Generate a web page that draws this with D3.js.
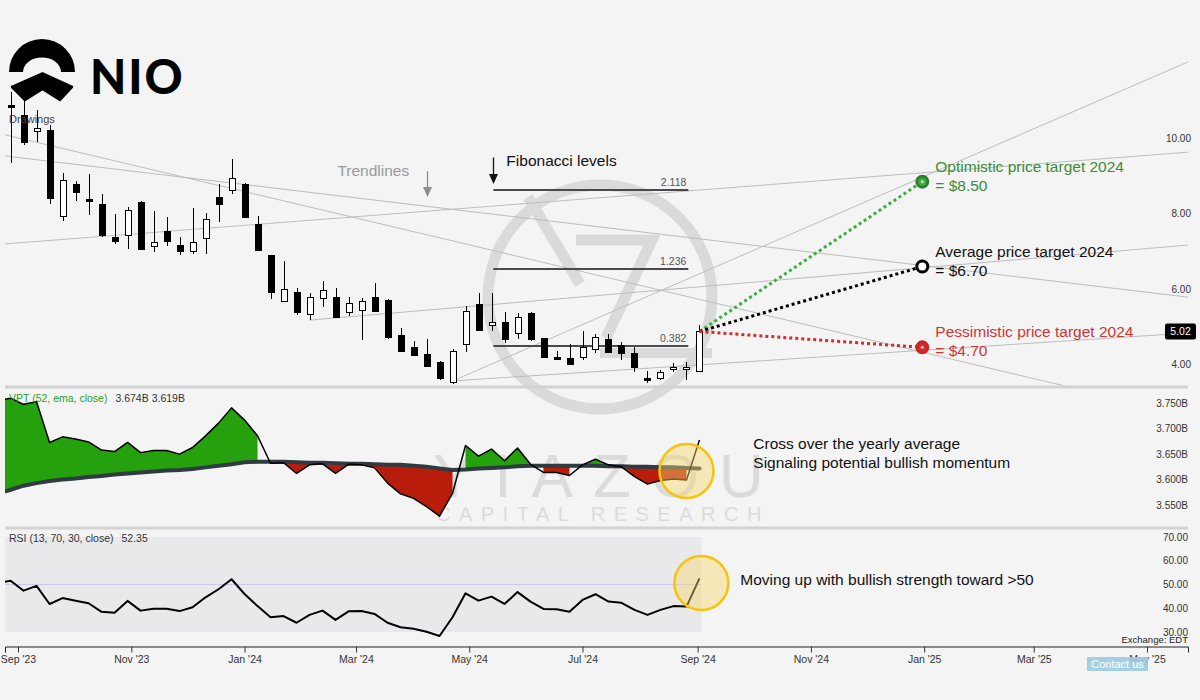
<!DOCTYPE html>
<html>
<head>
<meta charset="utf-8">
<script src="https://cdn.jsdelivr.net/npm/d3@7"></script>
<style>
  html, body { margin: 0; padding: 0; background: #f4f4f4; }
  svg { display: block; font-family: "Liberation Sans", Arial, sans-serif; }
</style>
</head>
<body>
<script>
// weekly candles, first week starting 2023-08-28
const candleStart = '2023-08-28'
const candleEnd = '2024-09-03'
const open = [11.03, 10.75, 10.33, 10.35, 8.08, 8.92, 8.53, 8.39, 7.51, 7.57, 8.46, 7.29, 7.68, 7.32, 7.15, 7.50, 8.59, 8.78, 8.94, 7.86,
  7.04, 5.82, 6.07, 5.48, 5.91, 5.94, 5.53, 5.58, 5.94, 5.85, 4.92, 4.60, 4.42, 4.22, 3.69, 4.68, 5.75, 5.19, 5.27, 4.98,
  5.51, 4.84, 4.34, 4.31, 4.35, 4.55, 4.81, 4.66, 4.44, 3.79, 3.80, 4.08, 4.07, 3.97]
const high = [11.36, 11.14, 10.88, 10.48, 9.22, 9.01, 9.19, 8.66, 8.14, 8.31, 8.48, 8.21, 8.05, 7.52, 8.30, 8.16, 8.92, 9.60, 8.96, 8.07,
  7.05, 6.89, 6.17, 6.05, 6.35, 6.17, 5.94, 5.91, 6.31, 5.87, 5.12, 4.76, 4.82, 4.23, 4.55, 5.69, 6.05, 6.05, 5.54, 5.51,
  5.54, 4.85, 4.50, 4.70, 5.04, 4.95, 4.95, 4.73, 4.61, 3.97, 4.00, 4.19, 4.20, 5.19]
const low = [9.48, 9.95, 10.03, 8.40, 7.94, 8.48, 8.11, 7.51, 7.33, 7.20, 7.17, 7.13, 7.28, 7.04, 7.06, 7.06, 7.92, 8.65, 8.02, 7.15,
  5.87, 5.80, 5.45, 5.32, 5.67, 5.40, 5.43, 4.79, 5.54, 4.81, 4.48, 4.39, 4.10, 3.73, 3.62, 4.48, 5.06, 5.04, 4.72, 4.81,
  4.76, 4.33, 4.26, 4.15, 4.26, 4.44, 4.46, 4.26, 3.95, 3.65, 3.73, 3.95, 3.73, 3.97]
const close = [10.98, 10.03, 10.40, 8.55, 9.03, 8.72, 8.48, 7.57, 7.43, 8.25, 7.21, 7.39, 7.42, 7.15, 7.39, 7.99, 8.41, 9.08, 8.05, 7.17,
  6.07, 6.14, 5.54, 5.94, 6.13, 5.41, 5.77, 5.82, 5.57, 4.88, 4.50, 4.41, 4.11, 3.78, 4.51, 5.56, 5.07, 5.27, 4.82, 5.41,
  4.81, 4.35, 4.33, 4.16, 4.61, 4.88, 4.48, 4.44, 4.07, 3.78, 3.95, 4.09, 4.08, 5.02]
const lastPrice = 5.02

// indicators, one week earlier start
const indicatorStart = '2023-08-21'
const vpt = [3.755, 3.760, 3.748, 3.753, 3.673, 3.684, 3.680, 3.674, 3.658, 3.655, 3.673, 3.653, 3.657, 3.657, 3.650, 3.663, 3.686, 3.711, 3.741, 3.717,
  3.686, 3.632, 3.633, 3.612, 3.629, 3.631, 3.612, 3.630, 3.629, 3.623, 3.593, 3.572, 3.563, 3.547, 3.528, 3.573, 3.667, 3.646, 3.660, 3.637,
  3.662, 3.630, 3.614, 3.614, 3.608, 3.629, 3.640, 3.629, 3.625, 3.606, 3.591, 3.598, 3.601, 3.599, 3.678]
const vptEma = [3.572, 3.580, 3.588, 3.593, 3.597, 3.600, 3.602, 3.605, 3.607, 3.610, 3.612, 3.614, 3.616, 3.618, 3.619, 3.621, 3.624, 3.627, 3.630, 3.634,
  3.635, 3.635, 3.635, 3.634, 3.633, 3.633, 3.632, 3.631, 3.631, 3.630, 3.629, 3.629, 3.627, 3.625, 3.622, 3.619, 3.620, 3.622, 3.623, 3.624,
  3.626, 3.627, 3.627, 3.627, 3.627, 3.627, 3.627, 3.626, 3.626, 3.625, 3.625, 3.624, 3.624, 3.623, 3.622]
const rsi = [50.6, 51.6, 47.4, 49.4, 41.8, 44.3, 43.2, 42.1, 38.5, 38.1, 43.1, 39.0, 39.8, 39.8, 38.8, 40.4, 44.6, 48.0, 52.2, 46.0,
  40.9, 36.2, 36.7, 33.9, 37.2, 39.0, 35.1, 38.7, 38.8, 37.6, 33.9, 32.0, 31.4, 30.1, 28.3, 36.2, 46.3, 43.2, 44.9, 41.8,
  46.8, 42.8, 39.7, 39.6, 38.5, 43.5, 45.9, 42.8, 42.3, 39.3, 37.2, 39.3, 40.9, 40.7, 52.6]
const vptLegend = ['3.674B', '3.619B']
const rsiLegend = '52.35'

// drawings
const trendlines = [
  [['2023-08-25', 7.34], ['2025-05-23', 9.77]],
  [['2023-08-25', 9.67], ['2025-05-23', 5.93]],
  [['2023-08-25', 10.23], ['2025-03-20', 3.55]],
  [['2024-02-05', 5.32], ['2025-05-23', 7.31]],
  [['2024-04-22', 3.71], ['2025-05-23', 4.98]],
  [['2024-04-22', 3.71], ['2025-05-23', 12.16]]
]
const fibFrom = '2024-05-14'
const fibTo = '2024-08-27'
const fibZero = 3.73
const fibOne = 6.11
const fibLevels = [0.382, 1.236, 2.118]

const targetFrom = '2024-09-02'
const targetDate = '2024-12-31'
const targetNames = ['Optimistic price target 2024', 'Average price target 2024', 'Pessimistic price target 2024']
const targetLabels = ['= $8.50', '= $6.70', '= $4.70']
const targetPlot = [8.99, 6.74, 4.60]

const priceTicks = [4, 6, 8, 10]
const vptTicks = [3.55, 3.60, 3.65, 3.70, 3.75]
const rsiTicks = [30, 40, 50, 60, 70]
const monthTicks = ['2023-09-01', '2023-11-01', '2024-01-01', '2024-03-01', '2024-05-01', '2024-07-01', '2024-09-01',
  '2024-11-01', '2025-01-01', '2025-03-01', '2025-05-01']

const parse = d3.timeParse('%Y-%m-%d')
const W = 1200, H = 700
const plotL = 5, plotR = 1188

const weeks = d3.timeMonday.range(parse(candleStart), parse(candleEnd))
const indWeeks = d3.timeMonday.range(parse(indicatorStart), parse(candleEnd))

const x = d3.scaleTime().domain([parse('2023-09-01'), parse('2025-05-01')]).range([18, 1147])
x.domain([x.invert(plotL), x.invert(plotR)]).range([plotL, plotR])
const yPrice = d3.scaleLinear().domain([4, 10]).range([370, 143.5])
const yVpt = d3.scaleLinear().domain([3.55, 3.75]).range([505, 403.3])
const yRsi = d3.scaleLinear().domain([30, 70]).range([632, 537])

const svg = d3.select('body').append('svg').attr('width', W).attr('height', H)
svg.append('rect').attr('width', W).attr('height', H).attr('fill', '#f4f4f4')

const defs = svg.append('defs')
const clip = (id, y0, y1) => defs.append('clipPath').attr('id', id)
  .append('rect').attr('x', plotL).attr('y', y0).attr('width', plotR - plotL).attr('height', y1 - y0)
clip('clipPrice', 30, 386)
clip('clipVpt', 389, 527)
clip('clipRsi', 530, 645)

// watermark
const wm = svg.append('g').attr('fill', 'none').attr('stroke', '#d4d4d4').attr('opacity', 0.8)
wm.append('circle').attr('cx', 600).attr('cy', 297).attr('r', 112).attr('stroke-width', 11)
wm.append('path').attr('d', 'M528,197 L580,284').attr('stroke-width', 11)
wm.append('path').attr('d', 'M576,240 L652,240 L606,338').attr('stroke-width', 11).attr('stroke-linejoin', 'miter')
wm.append('path').attr('d', 'M600,353 L712,353').attr('stroke-width', 10)
svg.append('text').attr('x', 433).attr('y', 497).attr('font-size', 62).attr('letter-spacing', 20)
  .attr('fill', '#d6d6d6').attr('opacity', 0.8).text('YIAZOU')
svg.append('text').attr('x', 436).attr('y', 521).attr('font-size', 20).attr('letter-spacing', 8.5)
  .attr('fill', '#d6d6d6').attr('opacity', 0.8).text('CAPITAL RESEARCH')

// price pane
const priceG = svg.append('g').attr('clip-path', 'url(#clipPrice)')

priceG.append('g').selectAll('line').data(trendlines).join('line')
  .attr('x1', d => x(parse(d[0][0]))).attr('y1', d => yPrice(d[0][1]))
  .attr('x2', d => x(parse(d[1][0]))).attr('y2', d => yPrice(d[1][1]))
  .attr('stroke', '#bdbdbd').attr('stroke-width', 1)

const fibG = priceG.append('g')
fibG.selectAll('line').data(fibLevels).join('line')
  .attr('x1', x(parse(fibFrom))).attr('x2', x(parse(fibTo)))
  .attr('y1', d => Math.round(yPrice(fibZero + d * (fibOne - fibZero))))
  .attr('y2', d => Math.round(yPrice(fibZero + d * (fibOne - fibZero))))
  .attr('stroke', '#4a4a4a').attr('stroke-width', 2)
fibG.selectAll('text').data(fibLevels).join('text')
  .attr('x', x(parse(fibTo)) - 2)
  .attr('y', d => yPrice(fibZero + d * (fibOne - fibZero)) - 4)
  .attr('text-anchor', 'end').attr('font-size', 10.5).attr('fill', '#555')
  .text(d => d.toFixed(3))

const candles = weeks.map((d, i) => ({ date: d, o: open[i], h: high[i], l: low[i], c: close[i] }))
const cg = priceG.append('g').attr('shape-rendering', 'crispEdges')
cg.selectAll('line').data(candles).join('line')
  .attr('x1', d => Math.round(x(d.date)) + 0.5).attr('x2', d => Math.round(x(d.date)) + 0.5)
  .attr('y1', d => yPrice(d.h)).attr('y2', d => yPrice(d.l))
  .attr('stroke', '#000').attr('stroke-width', 1)
cg.selectAll('rect').data(candles).join('rect')
  .attr('x', d => Math.round(x(d.date)) - 3 + 0.5)
  .attr('width', 6)
  .attr('y', d => Math.round(yPrice(Math.max(d.o, d.c))) + 0.5)
  .attr('height', d => Math.max(1.5, Math.round(yPrice(Math.min(d.o, d.c))) - Math.round(yPrice(Math.max(d.o, d.c)))))
  .attr('fill', d => d.c >= d.o ? '#fff' : '#000')
  .attr('stroke', '#000').attr('stroke-width', 1)

// drawings labels
svg.append('text').attr('x', 9).attr('y', 123).attr('font-size', 11).attr('fill', '#444').text('Drawings')

const arrow = (g, xd, p0, p1, color) => {
  const ax = Math.round(x(parse(xd))) + 0.5
  const ya = yPrice(p0), yb = yPrice(p1)
  g.append('line').attr('x1', ax).attr('x2', ax).attr('y1', ya).attr('y2', yb - 6)
    .attr('stroke', color).attr('stroke-width', 1.3)
  g.append('path').attr('d', `M${ax - 4.5},${yb - 10} L${ax + 4.5},${yb - 10} L${ax},${yb} Z`).attr('fill', color)
}
const annG = svg.append('g')
annG.append('text').attr('x', x(parse('2024-02-20'))).attr('y', yPrice(9.27)).attr('dy', '0.35em')
  .attr('font-size', 15.5).attr('fill', '#9a9a9a').text('Trendlines')
arrow(annG, '2024-04-08', 9.27, 8.58, '#8c8c8c')
annG.append('text').attr('x', x(parse('2024-05-21'))).attr('y', yPrice(9.56)).attr('dy', '0.35em')
  .attr('font-size', 15.5).attr('fill', '#111').text('Fibonacci levels')
arrow(annG, '2024-05-14', 9.63, 8.93, '#111')

// price targets
const targetColor = ['#3cae3c', '#000000', '#d42c2c']
const targetRing = ['#2e7d32', '#000000', '#c62828']
const targetText = ['#3c8c3c', '#111111', '#d03434']
const tg = svg.append('g')
const tx0 = x(parse(targetFrom)), ty0 = yPrice(lastPrice)
const tx1 = x(parse(targetDate))
tg.selectAll('line').data(targetPlot).join('line')
  .attr('x1', tx0).attr('y1', ty0).attr('x2', tx1).attr('y2', d => yPrice(d))
  .attr('stroke', (d, i) => targetColor[i]).attr('stroke-width', 3).attr('stroke-dasharray', '3,3')
tg.selectAll('circle.ring').data(targetPlot).join('circle').attr('class', 'ring')
  .attr('cx', tx1).attr('cy', d => yPrice(d)).attr('r', 5.5)
  .attr('fill', (d, i) => i === 1 ? '#fff' : targetColor[i])
  .attr('stroke', (d, i) => targetRing[i]).attr('stroke-width', 3)
tg.selectAll('circle.dot').data(targetPlot).join('circle').attr('class', 'dot')
  .attr('cx', tx1).attr('cy', d => yPrice(d)).attr('r', 1.5)
  .attr('fill', (d, i) => i === 1 ? '#fff' : '#f4e8e8').attr('opacity', 0.8)
tg.selectAll('text.name').data(targetPlot).join('text').attr('class', 'name')
  .attr('x', tx1 + 13).attr('y', d => yPrice(d) - 10).attr('font-size', 15.5)
  .attr('fill', (d, i) => targetText[i]).text((d, i) => targetNames[i])
tg.selectAll('text.val').data(targetPlot).join('text').attr('class', 'val')
  .attr('x', tx1 + 13).attr('y', d => yPrice(d) + 9).attr('font-size', 15.5)
  .attr('fill', (d, i) => targetText[i]).text((d, i) => targetLabels[i])

// price axis
svg.append('g').selectAll('text').data(priceTicks).join('text')
  .attr('x', 1191).attr('y', d => yPrice(d) - 5.5).attr('dy', '0.35em')
  .attr('text-anchor', 'end').attr('font-size', 10).attr('fill', '#333').text(d => d.toFixed(2))
const lp = svg.append('g')
lp.append('rect').attr('x', 1165).attr('y', yPrice(lastPrice) - 8).attr('width', 31).attr('height', 16)
  .attr('rx', 2).attr('fill', '#000')
lp.append('text').attr('x', 1180.5).attr('y', yPrice(lastPrice)).attr('dy', '0.35em').attr('text-anchor', 'middle')
  .attr('font-size', 10.5).attr('fill', '#fff').text(lastPrice.toFixed(2))

// separators
svg.append('g').selectAll('rect').data([385.5, 526.5]).join('rect')
  .attr('x', plotL).attr('y', d => d).attr('width', plotR - plotL).attr('height', 3).attr('fill', '#d2d2d2')

// VPT pane
const ind = indWeeks.map((d, i) => ({ date: d, v: vpt[i], e: vptEma[i], r: rsi[i] }))
const vptG = svg.append('g').attr('clip-path', 'url(#clipVpt)')
const runs = []
let cur = null
ind.forEach(p => {
  const s = p.v >= p.e ? 1 : -1
  if (!cur || cur.s !== s) { cur = { s, pts: [] }; runs.push(cur) }
  cur.pts.push(p)
})
const vArea = d3.area().x(d => x(d.date)).y0(d => yVpt(d.e)).y1(d => yVpt(d.v))
vptG.selectAll('path.fill').data(runs.filter(r => r.pts.length > 1)).join('path').attr('class', 'fill')
  .attr('d', r => vArea(r.pts)).attr('fill', r => r.s > 0 ? '#24a10c' : '#b81c0a')
vptG.append('path').datum(ind)
  .attr('d', d3.line().x(d => x(d.date)).y(d => yVpt(d.e)))
  .attr('fill', 'none').attr('stroke', '#2f3a41').attr('stroke-width', 4).attr('stroke-linecap', 'round')
vptG.append('path').datum(ind)
  .attr('d', d3.line().x(d => x(d.date)).y(d => yVpt(d.v)))
  .attr('fill', 'none').attr('stroke', '#000').attr('stroke-width', 1.5).attr('stroke-linejoin', 'round')
const vh = svg.append('text').attr('x', 9).attr('y', 402).attr('font-size', 10.5)
vh.append('tspan').attr('fill', '#2ca02c').text('VPT (52, ema, close)')
vh.append('tspan').attr('fill', '#333').attr('dx', 8).text(vptLegend.join(' '))
svg.append('g').selectAll('text').data(vptTicks).join('text')
  .attr('x', 1188).attr('y', d => yVpt(d)).attr('dy', '0.35em')
  .attr('text-anchor', 'end').attr('font-size', 10).attr('fill', '#333').text(d => d.toFixed(3) + 'B')

// RSI pane
const rsiG = svg.append('g').attr('clip-path', 'url(#clipRsi)')
const lastX = x(indWeeks[indWeeks.length - 1]) + 2
rsiG.append('rect').attr('x', plotL).attr('y', yRsi(70)).attr('width', lastX - plotL).attr('height', yRsi(30) - yRsi(70))
  .attr('fill', '#e9e9ec')
rsiG.append('line').attr('x1', plotL).attr('x2', lastX).attr('y1', yRsi(50)).attr('y2', yRsi(50))
  .attr('stroke', '#cdc6ea').attr('stroke-width', 1)
rsiG.append('path').datum(ind)
  .attr('d', d3.line().x(d => x(d.date)).y(d => yRsi(d.r)))
  .attr('fill', 'none').attr('stroke', '#000').attr('stroke-width', 2).attr('stroke-linejoin', 'round')
const rh = svg.append('text').attr('x', 9).attr('y', 542).attr('font-size', 10.5).attr('fill', '#333')
rh.append('tspan').text('RSI (13, 70, 30, close)')
rh.append('tspan').attr('dx', 8).text(rsiLegend)
svg.append('g').selectAll('text').data(rsiTicks).join('text')
  .attr('x', 1188).attr('y', d => yRsi(d)).attr('dy', '0.35em')
  .attr('text-anchor', 'end').attr('font-size', 10).attr('fill', '#333').text(d => d.toFixed(2))

// highlight circles
const hl = svg.append('g').attr('fill', 'rgba(246, 214, 110, 0.45)').attr('stroke', '#f6c40c').attr('stroke-width', 2.5)
hl.append('circle').attr('cx', x(parse('2024-08-26'))).attr('cy', yVpt(3.617)).attr('r', 27)
hl.append('circle').attr('cx', x(parse('2024-09-03'))).attr('cy', yRsi(50.6)).attr('r', 27)

// indicator annotations
const noteG = svg.append('g').attr('font-size', 15.5).attr('fill', '#111')
noteG.append('text').attr('x', x(parse('2024-10-01'))).attr('y', yVpt(3.670)).attr('dy', '0.35em')
  .text('Cross over the yearly average')
noteG.append('text').attr('x', x(parse('2024-10-01'))).attr('y', yVpt(3.670) + 19).attr('dy', '0.35em')
  .text('Signaling potential bullish momentum')
noteG.append('text').attr('x', x(parse('2024-09-24'))).attr('y', yRsi(51.9)).attr('dy', '0.35em')
  .text('Moving up with bullish strength toward >50')

// x axis
const xAxis = d3.axisBottom(x).tickValues(monthTicks.map(parse)).tickSize(6).tickPadding(3)
  .tickFormat(d3.timeFormat("%b '%y"))
const xg = svg.append('g').attr('transform', 'translate(0,646.5)').call(xAxis)
xg.select('.domain').attr('stroke', '#222')
xg.selectAll('.tick line').attr('stroke', '#333')
xg.selectAll('.tick text').attr('fill', '#333').attr('font-size', 10.5)
  .attr('font-family', '"Liberation Sans", Arial, sans-serif')
svg.append('text').attr('x', 1188).attr('y', 643).attr('text-anchor', 'end').attr('font-size', 9.5)
  .attr('fill', '#222').text('Exchange: EDT')

const cu = svg.append('g')
cu.append('rect').attr('x', 1087).attr('y', 657).attr('width', 61).attr('height', 14).attr('fill', '#9ccbe2').attr('opacity', 0.9)
cu.append('text').attr('x', 1117.5).attr('y', 664).attr('dy', '0.35em').attr('text-anchor', 'middle')
  .attr('font-size', 11).attr('fill', '#fff').text('Contact us')

// NIO logo
const logo = svg.append('g').attr('fill', '#000')
logo.append('path').attr('d', 'M9,72 A33,33 0 0 1 75,72 L61,72 A19,14.5 0 0 0 23,72 Z')
logo.append('path').attr('d', 'M12,87 L42.5,73.5 L72,87 L60,100 L42.5,89 L25,100 Z')
  .attr('stroke', '#000').attr('stroke-width', 2.5).attr('stroke-linejoin', 'round')
logo.append('text').attr('x', 90).attr('y', 94).attr('font-family', 'Lato, "Liberation Sans", sans-serif')
  .attr('font-weight', 900).attr('font-size', 47).attr('letter-spacing', 2).text('NIO')
</script>
</body>
</html>
